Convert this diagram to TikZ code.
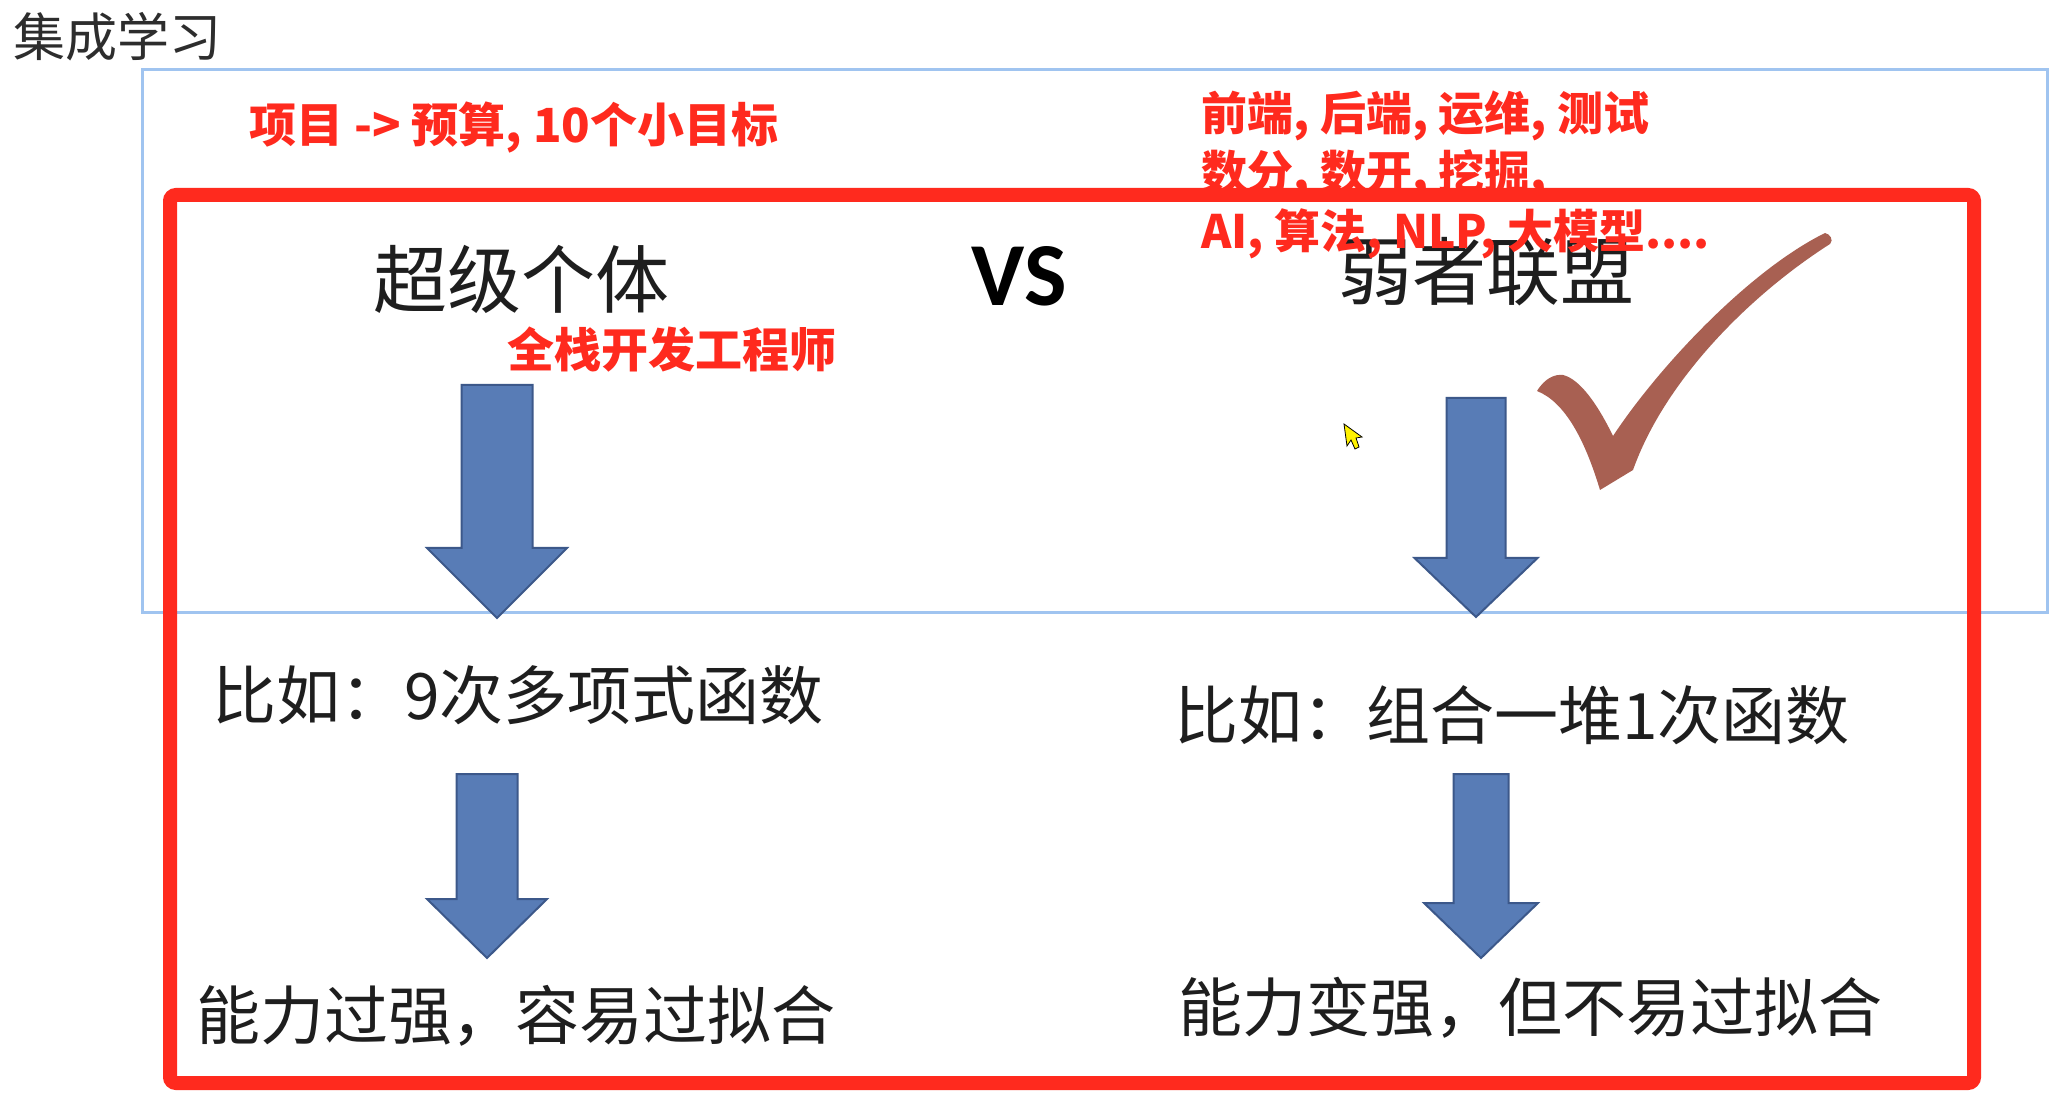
\documentclass[tikz,border=0pt]{standalone}
\usepackage{fontspec}
\setmainfont{Noto Sans CJK SC}
\newfontfamily\vsfont{Carlito}
\usepackage{tikz}
\usetikzlibrary{positioning}
\definecolor{EnsRed}{RGB}{255,42,30}
\definecolor{EnsInk}{RGB}{30,30,30}
\definecolor{EnsGrey}{RGB}{45,45,45}
\definecolor{EnsFrame}{RGB}{160,196,240}
\definecolor{ArrBlue}{RGB}{88,124,182}
\definecolor{ArrEdge}{RGB}{60,88,138}
\definecolor{TickBrown}{RGB}{168,96,82}
\newcommand{\downblock}[6]{%
  \draw[blockarr] (#1-#3,#2) -- (#1+#3,#2) -- (#1+#3,#5) -- (#1+#4,#5)
    -- (#1,#6) -- (#1-#4,#5) -- (#1-#3,#5) -- cycle;}

\begin{document}
\begin{tikzpicture}[
    x=0.5pt, y=-0.5pt,
    body/.style={font=\fontsize{32}{38}\selectfont, text=EnsInk, inner sep=0pt},
    side/.style={font=\fontsize{37}{44}\selectfont, text=EnsInk, inner sep=0pt},
    redtxt/.style={font=\bfseries\fontsize{23.5}{29.5}\selectfont, text=EnsRed, inner sep=0pt},
    blockarr/.style={fill=ArrBlue, draw=ArrEdge, line width=1pt, line join=miter}
  ]

  \useasboundingbox[fill=white] (0,0) rectangle (2058,1117);

  \draw[EnsFrame, line width=1.5pt] (142,70) rectangle (2047,613);
  \draw[EnsRed, line width=7pt, rounded corners=3pt] (170,195) rectangle (1974,1083);

  \node[anchor=west, font=\fontsize{26}{30}\selectfont, text=EnsGrey, inner sep=0pt]
    (title) at (13,37) {集成学习};

  \node[side] (solo) at (521,279) {超级个体};
  \node[font=\vsfont\bfseries\fontsize{45}{50}\selectfont, text=black, inner sep=0pt]
    (vs) at (1019,276) {VS};
  \node[side] (team) at (1486,272) {弱者联盟};

  \node[redtxt] (budget) at (514,128) {项目 -> 预算, 10个小目标};
  \node[redtxt] (fullstack) at (672,350) {全栈开发工程师};
  \node[redtxt, font=\bfseries\fontsize{23}{29}\selectfont, anchor=west]
    (roles1) at (1201,116) {前端, 后端, 运维, 测试};
  \node[redtxt, font=\bfseries\fontsize{23}{29}\selectfont, anchor=west]
    (roles2) at (1201,175) {数分, 数开, 挖掘,};
  \node[redtxt, font=\bfseries\fontsize{23}{29}\selectfont, anchor=west]
    (roles3) at (1201,234) {AI, 算法, NLP, 大模型....};

  \node[body] (soloeg) at (518,695) {比如：9次多项式函数};
  \node[body] (teameg) at (1512,715) {比如：组合一堆1次函数};
  \node[body] (soloend) at (516,1016) {能力过强，容易过拟合};
  \node[body] (teamend) at (1530,1008) {能力变强，但不易过拟合};

  \downblock{497}{385}{35.5}{70}{548}{618}
  \downblock{487}{774}{30.5}{60}{899}{958}
  \downblock{1476}{398}{29.5}{61.5}{558}{617}
  \downblock{1481}{774}{27.5}{57}{903}{958}

  \fill[TickBrown] (1537,391) .. controls (1545,378) and (1555,374) .. (1563,375)
    .. controls (1580,379) and (1598,405) .. (1613,436)
    .. controls (1660,365) and (1750,270) .. (1825,233)
    .. controls (1830,234) and (1834,240) .. (1830,244)
    .. controls (1750,295) and (1665,380) .. (1633,470)
    -- (1600,490)
    .. controls (1585,440) and (1565,402) .. (1537,391) -- cycle;

  \draw[fill=yellow, draw=black, line width=0.4pt, line join=miter]
    (1344,424) -- (1347,446) -- (1351,440) -- (1355,449) -- (1359,447)
    -- (1356,438) -- (1362,437) -- cycle;

\end{tikzpicture}
\end{document}
